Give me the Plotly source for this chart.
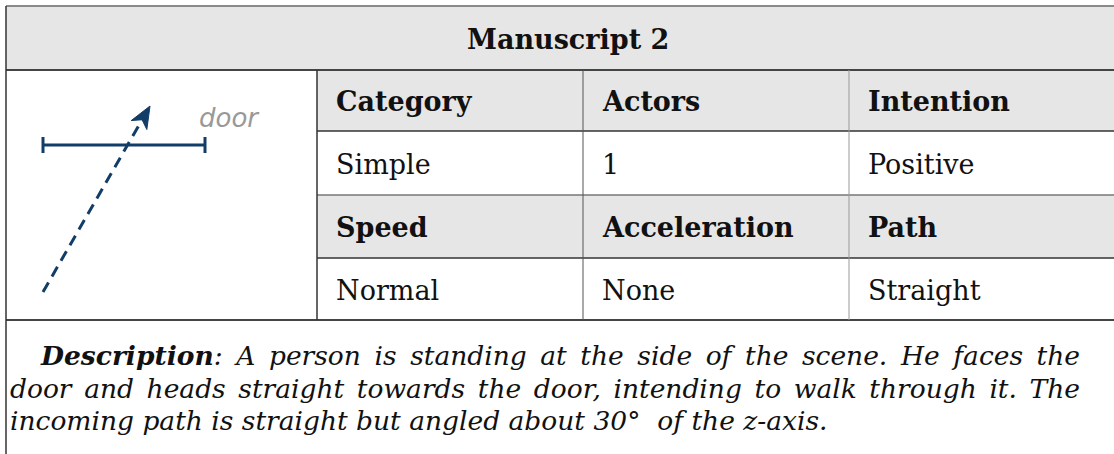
import math
import plotly.graph_objects as go

# ---- content ----
title = "Manuscript 2"
header_row1 = ["Category", "Actors", "Intention"]
values_row1 = ["Simple", "1", "Positive"]
header_row2 = ["Speed", "Acceleration", "Path"]
values_row2 = ["Normal", "None", "Straight"]
desc_lines = [
    "<b><i>Description</i></b><i>: A person is standing at the side of the scene. He faces the</i>",
    "<i>door and heads straight towards the door, intending to walk through it. The</i>",
    "<i>incoming path is straight but angled about 30°\u00a0 of the z-axis.</i>",
]
desc_justify = [True, True, False]
door_label = "door"
door_x = [43, 205]
door_y = [145, 145]
path_x = [43, 150]
path_y = [292, 106]

# ---- geometry ----
W, H = 1114, 454
left = 6
top = 6
right = 1130
head_bot = 70
col_x = [317, 583, 849, right]
row_y = [70, 131, 195, 258, 320]
GRAY = "#e6e6e6"
NAVY = "#123d69"
serif = "DejaVu Serif"
desc_right = 1080

shapes = []
annotations = []

# header band
shapes.append(dict(type="rect", x0=left, x1=right, y0=top, y1=head_bot,
                   fillcolor=GRAY, line=dict(width=0), layer="below"))
# gray header rows in table
for r in (0, 2):
    shapes.append(dict(type="rect", x0=col_x[0], x1=right, y0=row_y[r], y1=row_y[r + 1],
                       fillcolor=GRAY, line=dict(width=0), layer="below"))

def hline(y, x0, x1, color, w):
    shapes.append(dict(type="line", x0=x0, x1=x1, y0=y, y1=y, line=dict(color=color, width=w)))

def vline(x, y0, y1, color, w):
    shapes.append(dict(type="line", x0=x, x1=x, y0=y0, y1=y1, line=dict(color=color, width=w)))

hline(top, left, right, "#8a8a8a", 2)
hline(head_bot, left, right, "#444444", 2)
hline(row_y[1], col_x[0], right, "#333333", 1.5)
hline(row_y[2], col_x[0], right, "#777777", 1.5)
hline(row_y[3], col_x[0], right, "#333333", 1.5)
hline(row_y[4], left, right, "#444444", 2)
vline(left, top, H, "#333333", 1.5)
vline(col_x[0], row_y[0], row_y[4], "#333333", 1.5)
for i, cx in enumerate(col_x[1:3]):
    c = "#555555" if i == 0 else "#999999"
    vline(cx, row_y[0], row_y[4], c, 1)

# description lines first (indices 0..2 used by the justify script)
desc_x = [38, 8, 8]
desc_y = [355, 388, 420]
for i, line in enumerate(desc_lines):
    annotations.append(dict(x=desc_x[i], y=desc_y[i], text=line, showarrow=False, align="left",
                            font=dict(family=serif, size=26.5, color="#111"),
                            xanchor="left", yanchor="middle"))

# title
annotations.append(dict(x=(left + right) / 2, y=(top + head_bot) / 2 + 1, text="<b>" + title + "</b>",
                        showarrow=False, font=dict(family=serif, size=27, color="#111"),
                        xanchor="center", yanchor="middle"))

rows = [header_row1, values_row1, header_row2, values_row2]
for r, row in enumerate(rows):
    yc = (row_y[r] + row_y[r + 1]) / 2 + 1
    for c, txt in enumerate(row):
        t = "<b>" + txt + "</b>" if r in (0, 2) else txt
        annotations.append(dict(x=col_x[c] + 17, y=yc, text=t, showarrow=False, align="left",
                                font=dict(family=serif, size=27, color="#111"),
                                xanchor="left", yanchor="middle"))

# door label
annotations.append(dict(x=197, y=118, text="<i>" + door_label + "</i>", showarrow=False,
                        font=dict(family="DejaVu Sans", size=26, color="#999999"),
                        xanchor="left", yanchor="middle"))

fig = go.Figure()

# door line with end caps
fig.add_trace(go.Scatter(x=door_x, y=door_y, mode="lines",
                         line=dict(color=NAVY, width=3), hoverinfo="skip"))
for dx in door_x:
    fig.add_trace(go.Scatter(x=[dx, dx], y=[door_y[0] - 8, door_y[0] + 8], mode="lines",
                             line=dict(color=NAVY, width=3), hoverinfo="skip"))

# dashed path + arrowhead
ddx = path_x[1] - path_x[0]
ddy = path_y[1] - path_y[0]
L = math.hypot(ddx, ddy)
ux, uy = ddx / L, ddy / L
nx, ny = -uy, ux
head_len, head_w = 22, 9
ex, ey = path_x[1] - ux * head_len * 0.7, path_y[1] - uy * head_len * 0.7
fig.add_trace(go.Scatter(x=[path_x[0], ex], y=[path_y[0], ey], mode="lines",
                         line=dict(color=NAVY, width=3, dash="11px,7px"), hoverinfo="skip"))
tx, ty = path_x[1], path_y[1]
bx, by = tx - ux * head_len, ty - uy * head_len
mx, my = tx - ux * head_len * 0.72, ty - uy * head_len * 0.72
pts = [(tx, ty), (bx + nx * head_w, by + ny * head_w), (mx, my), (bx - nx * head_w, by - ny * head_w)]
path = "M " + " L ".join(f"{px:.2f},{py:.2f}" for px, py in pts) + " Z"
shapes.append(dict(type="path", path=path, fillcolor=NAVY, line=dict(color=NAVY, width=1)))

fig.update_layout(
    width=W, height=H, margin=dict(l=0, r=0, t=0, b=0),
    paper_bgcolor="white", plot_bgcolor="white", showlegend=False,
    xaxis=dict(range=[0, W], visible=False, fixedrange=True),
    yaxis=dict(range=[H, 0], visible=False, fixedrange=True),
    shapes=shapes, annotations=annotations,
)

justify_idx = [i for i, j in enumerate(desc_justify) if j]
post = """
document.body.style.margin = '0';
var gd = document.getElementById('{plot_id}');
var rightEdge = %d;
%s.forEach(function(k) {
  var t = gd.querySelector('g.annotation[data-index="' + k + '"] text.annotation-text');
  if (!t) return;
  var r = t.getBoundingClientRect();
  var gdr = gd.getBoundingClientRect();
  var n = (t.textContent.match(/ /g) || []).length;
  if (n > 0) {
    var ws = (rightEdge - (r.right - gdr.left)) / n;
    t.style.wordSpacing = ws + 'px';
  }
});
""" % (desc_right, str(justify_idx))
fig.write_html("out.html", post_script=post, config={"displayModeBar": False})
